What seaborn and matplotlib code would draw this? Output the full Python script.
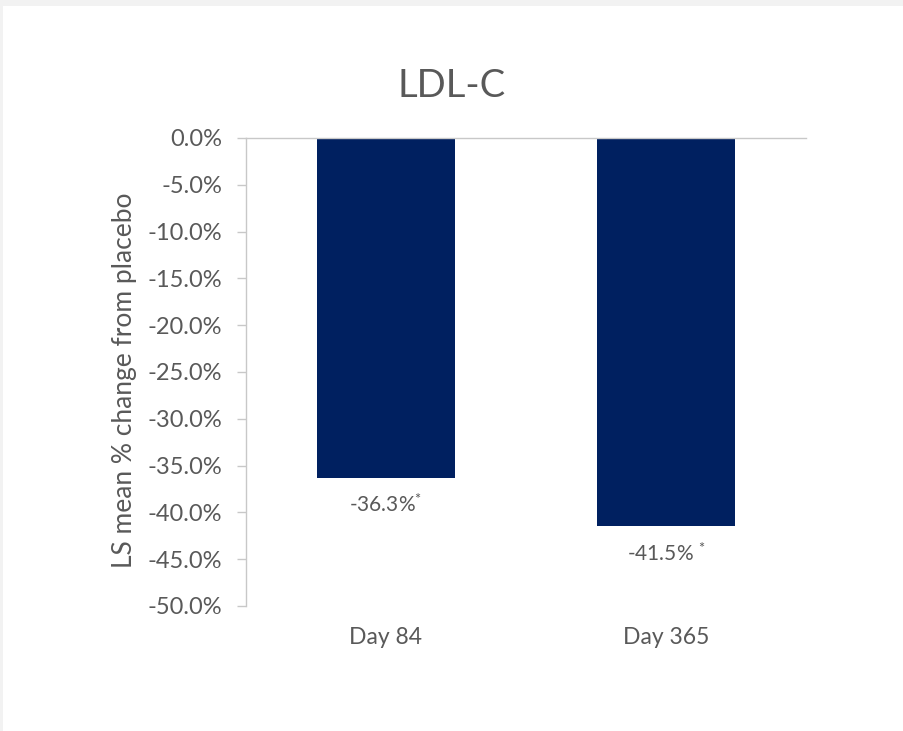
import matplotlib
matplotlib.use("Agg")
import matplotlib.pyplot as plt
from matplotlib.patches import Rectangle
import seaborn as sns
import pandas as pd

days = ["Day 84", "Day 365"]
ls_mean_change = [-36.3, -41.5]
value_labels = ["-36.3%$^{*}$", "-41.5% $^{*}$"]
y_ticks = [0, -5, -10, -15, -20, -25, -30, -35, -40, -45, -50]
y_tick_labels = ["0.0%", "-5.0%", "-10.0%", "-15.0%", "-20.0%", "-25.0%",
                 "-30.0%", "-35.0%", "-40.0%", "-45.0%", "-50.0%"]

df = pd.DataFrame({"day": days, "change": ls_mean_change})

sns.set_theme(style="white")
plt.rcParams["font.family"] = ["Lato", "DejaVu Sans"]
plt.rcParams["mathtext.fontset"] = "custom"
plt.rcParams["mathtext.rm"] = "Lato"
plt.rcParams["mathtext.it"] = "Lato"
plt.rcParams["axes.unicode_minus"] = False

grey_text = "#595959"
navy = "#002060"

fig = plt.figure(figsize=(9.04, 7.31), dpi=100, facecolor="#f2f2f2")
# white chart panel inside the light grey frame
fig.patches.append(Rectangle((3 / 904, 0), 1, 1 - 6 / 731, transform=fig.transFigure,
                             facecolor="white", edgecolor="none", zorder=-10))

ax = fig.add_axes([246 / 904, 1 - 606 / 731, 560 / 904, 468 / 731])
ax.set_facecolor("none")

sns.barplot(data=df, x="day", y="change", color=navy, width=0.49,
            saturation=1, linewidth=0, ax=ax)

ax.set_ylim(-50, 0)
ax.set_xlim(-0.5, 1.5)
ax.set_yticks(y_ticks)
ax.set_yticklabels(y_tick_labels)
ax.set_xlabel("")
ax.set_ylabel("")

for spine in ["right", "bottom"]:
    ax.spines[spine].set_visible(False)
ax.spines["left"].set_color("#c8c8c8")
ax.spines["top"].set_color("#c8c8c8")
ax.spines["left"].set_linewidth(1)
ax.spines["top"].set_linewidth(1)

ax.tick_params(axis="y", length=6.5, width=1, color="#c8c8c8", pad=10.5,
               labelsize=17, labelcolor=grey_text, left=True)
ax.tick_params(axis="x", length=0, pad=15, labelsize=16.5, labelcolor=grey_text)

for i, (val, lab) in enumerate(zip(ls_mean_change, value_labels)):
    ax.annotate(lab, xy=(i, val), xytext=(0, -19.5), textcoords="offset points",
                ha="center", va="center", fontsize=15, color=grey_text)

fig.text(0.5, 1 - 86 / 731, "LDL-C", ha="center", va="center",
         fontsize=27.5, color=grey_text)
fig.text(125 / 904, 1 - 380 / 731, "LS mean % change from placebo",
         rotation=90, ha="center", va="center", fontsize=19, color=grey_text)

fig.savefig("out.png", dpi=100, facecolor=fig.get_facecolor())
